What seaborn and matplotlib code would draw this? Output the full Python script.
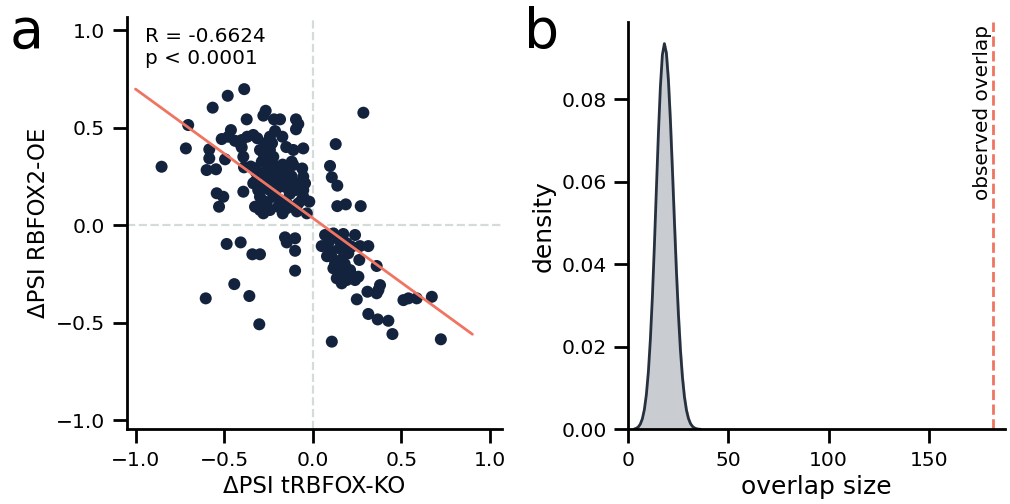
import numpy as np
import pandas as pd
import matplotlib
matplotlib.use("Agg")
import matplotlib.pyplot as plt
import seaborn as sns

# ---------------- data: panel a ----------------
dpsi_ko = [
    -0.853, -0.703, -0.716, -0.565, -0.480, -0.387, -0.373, -0.266, -0.279, -0.219,
    -0.185, -0.095, -0.082, -0.095, -0.213, -0.462, -0.514, -0.477, -0.439, -0.401,
    -0.370, -0.313, -0.242, -0.172, -0.584, -0.584, -0.599, -0.546, -0.495, -0.401,
    -0.392, -0.388, -0.110, -0.054, -0.119, -0.542, -0.505, -0.529, -0.392, -0.336,
    -0.411, -0.270, -0.279, -0.279, -0.326, -0.298, -0.326, -0.308, -0.298, -0.326,
    -0.298, -0.223, -0.204, -0.185, -0.147, -0.176, -0.157, -0.110, -0.100, -0.072,
    -0.054, -0.054, -0.082, -0.110, -0.147, -0.185, -0.223, -0.242, -0.251, -0.260,
    -0.195, -0.242, -0.279, -0.034, -0.223, -0.242, -0.260, -0.044, -0.054, -0.336,
    -0.279, -0.298, -0.260, -0.288, -0.260, -0.110, -0.147, -0.063, -0.147,
    -0.320, -0.220, -0.170, -0.130, -0.200, -0.120, -0.060, -0.090, -0.170, -0.350,
    -0.230, -0.150, -0.310, -0.020, -0.270,
    0.285, 0.129, 0.097, 0.107, 0.138, 0.138, 0.186, 0.270,
    -0.486, -0.407, -0.341, -0.298, -0.157, -0.147, -0.100, -0.100, -0.100, -0.443,
    -0.604, -0.358, -0.302,
    0.069, 0.116, 0.172, 0.238, 0.050, 0.087, 0.097, 0.144, 0.191, 0.219,
    0.266, 0.313, 0.200, 0.163, 0.125, 0.262, 0.360, 0.116, 0.144, 0.210,
    0.219, 0.191, 0.238, 0.257, 0.135, 0.163, 0.172, 0.379, 0.370, 0.360,
    0.308, 0.248, 0.511, 0.539, 0.586, 0.671, 0.313, 0.366, 0.426, 0.449,
    0.107, 0.722, 0.080, 0.105, 0.180, 0.150,
]
dpsi_oe = [
    0.299, 0.513, 0.393, 0.602, 0.663, 0.697, 0.542, 0.586, 0.561, 0.542,
    0.542, 0.542, 0.518, 0.491, 0.482, 0.487, 0.441, 0.453, 0.432, 0.436,
    0.453, 0.445, 0.453, 0.453, 0.388, 0.342, 0.282, 0.286, 0.337, 0.398,
    0.350, 0.296, 0.385, 0.393, 0.325, 0.163, 0.145, 0.094, 0.171, 0.462,
    0.419, 0.419, 0.368, 0.333, 0.291, 0.265, 0.222, 0.179, 0.145, 0.094,
    0.077, 0.308, 0.273, 0.299, 0.273, 0.231, 0.196, 0.222, 0.179, 0.205,
    0.179, 0.145, 0.111, 0.094, 0.111, 0.128, 0.145, 0.179, 0.214, 0.248,
    0.094, 0.077, 0.060, 0.060, 0.350, 0.385, 0.111, 0.214, 0.248, 0.214,
    0.188, 0.385, 0.342, 0.325, 0.282, 0.308, 0.248, 0.128, 0.086,
    0.270, 0.230, 0.310, 0.160, 0.190, 0.250, 0.290, 0.070, 0.060, 0.300,
    0.420, 0.400, 0.200, 0.120, 0.120,
    0.576, 0.415, 0.303, 0.245, 0.202, 0.097, 0.106, 0.097,
    -0.097, -0.089, -0.150, -0.150, -0.063, -0.089, -0.068, -0.132, -0.234, -0.303,
    -0.376, -0.364, -0.509,
    -0.051, -0.043, -0.046, -0.051, -0.108, -0.094, -0.132, -0.073, -0.094, -0.111,
    -0.108, -0.108, -0.145, -0.176, -0.200, -0.179, -0.210, -0.222, -0.231, -0.231,
    -0.256, -0.282, -0.282, -0.265, -0.273, -0.299, -0.256, -0.308, -0.333, -0.350,
    -0.342, -0.381, -0.385, -0.376, -0.376, -0.368, -0.456, -0.484, -0.491, -0.559,
    -0.598, -0.586, -0.160, -0.160, -0.200, -0.120,
]
fit_x_range = [-1.0, 0.9]
stat_text = ["R = -0.6624", "p < 0.0001"]

# ---------------- data: panel b ----------------
overlap_size = list(range(3, 37))
null_density = [
    0.00010, 0.00027, 0.00061, 0.00129, 0.00256, 0.00478, 0.00841, 0.0139, 0.0218, 0.0320,
    0.0444, 0.0581, 0.0715, 0.0830, 0.0908, 0.0935, 0.0912, 0.0847, 0.0749, 0.0630,
    0.0505, 0.0384, 0.0279, 0.0193, 0.0127, 0.00792, 0.00471, 0.00267, 0.00144, 0.00074,
    0.00036, 0.00017, 0.00007, 0.00003,
]
observed_overlap = 182
b_xticks = [0, 50, 100, 150]
b_yticks = [0.00, 0.02, 0.04, 0.06, 0.08]
a_ticks = [-1.0, -0.5, 0.0, 0.5, 1.0]

# ---------------- style ----------------
sns.set_theme(style="ticks", context="talk", font_scale=0.8)
plt.rcParams["font.family"] = ["DejaVu Sans"]
for k in ["text.color", "axes.labelcolor", "xtick.color", "ytick.color", "axes.edgecolor"]:
    plt.rcParams[k] = "black"
plt.rcParams["axes.linewidth"] = 2.0
plt.rcParams["xtick.major.width"] = 2.0
plt.rcParams["ytick.major.width"] = 2.0
plt.rcParams["xtick.major.size"] = 10
plt.rcParams["ytick.major.size"] = 10
plt.rcParams["xtick.major.pad"] = 5.5
plt.rcParams["ytick.major.pad"] = 5.5

NAVY = "#13233e"
CORAL = "#f07462"
GRID = "#d3dcd8"
TICK_FS = 14.6

fig = plt.figure(figsize=(10.1, 5.04), dpi=100)
axa = fig.add_axes([0.1254, 0.1488, 0.3713, 0.8175])
axb = fig.add_axes([0.6221, 0.148, 0.3729, 0.808])

# ---- panel a ----
df = pd.DataFrame({"ko": dpsi_ko, "oe": dpsi_oe})
axa.axvline(0, color=GRID, lw=1.6, ls="--", zorder=0)
axa.axhline(0, color=GRID, lw=1.6, ls="--", zorder=0)
sns.scatterplot(data=df, x="ko", y="oe", ax=axa, color=NAVY, s=75,
                edgecolor="none", linewidth=0, zorder=2)
slope, intercept = np.polyfit(df["ko"], df["oe"], 1)
fx = np.array(fit_x_range)
axa.plot(fx, slope * fx + intercept, color=CORAL, lw=2.0, zorder=3)
axa.set_xlim(-1.05, 1.065)
axa.set_ylim(-1.046, 1.067)
axa.set_xticks(a_ticks)
axa.set_yticks(a_ticks)
axa.set_xlabel("ΔPSI tRBFOX-KO", fontsize=16.5)
axa.set_ylabel("ΔPSI RBFOX2-OE", fontsize=16.5)
axa.tick_params(labelsize=TICK_FS)
axa.text(0.05, 0.975, "\n".join(stat_text), transform=axa.transAxes,
         ha="left", va="top", fontsize=14.4, linespacing=1.2)
sns.despine(ax=axa)

# ---- panel b ----
dfb = pd.DataFrame({"overlap": overlap_size, "density": null_density})
axb.fill_between(dfb["overlap"], 0, dfb["density"], color="#c9cdd1", zorder=1)
sns.lineplot(data=dfb, x="overlap", y="density", ax=axb, color="#27303f",
             lw=2.0, zorder=2)
axb.axvline(observed_overlap, color=CORAL, lw=2.0, ls="--", zorder=2)
axb.set_xlim(0, 188)
axb.set_ylim(0, 0.0987)
axb.set_xticks(b_xticks)
axb.set_yticks(b_yticks)
axb.set_yticklabels([f"{v:.2f}" for v in b_yticks])
axb.set_xlabel("overlap size", fontsize=18)
axb.set_ylabel("density", fontsize=18)
axb.tick_params(labelsize=TICK_FS)
axb.text(observed_overlap - 0.5, 0.098, "observed overlap", rotation=90,
         ha="right", va="top", fontsize=14.4)
sns.despine(ax=axb)

fig.text(0.010, 0.905, "a", fontsize=40)
fig.text(0.519, 0.905, "b", fontsize=40)

fig.savefig("out.png", dpi=100)
